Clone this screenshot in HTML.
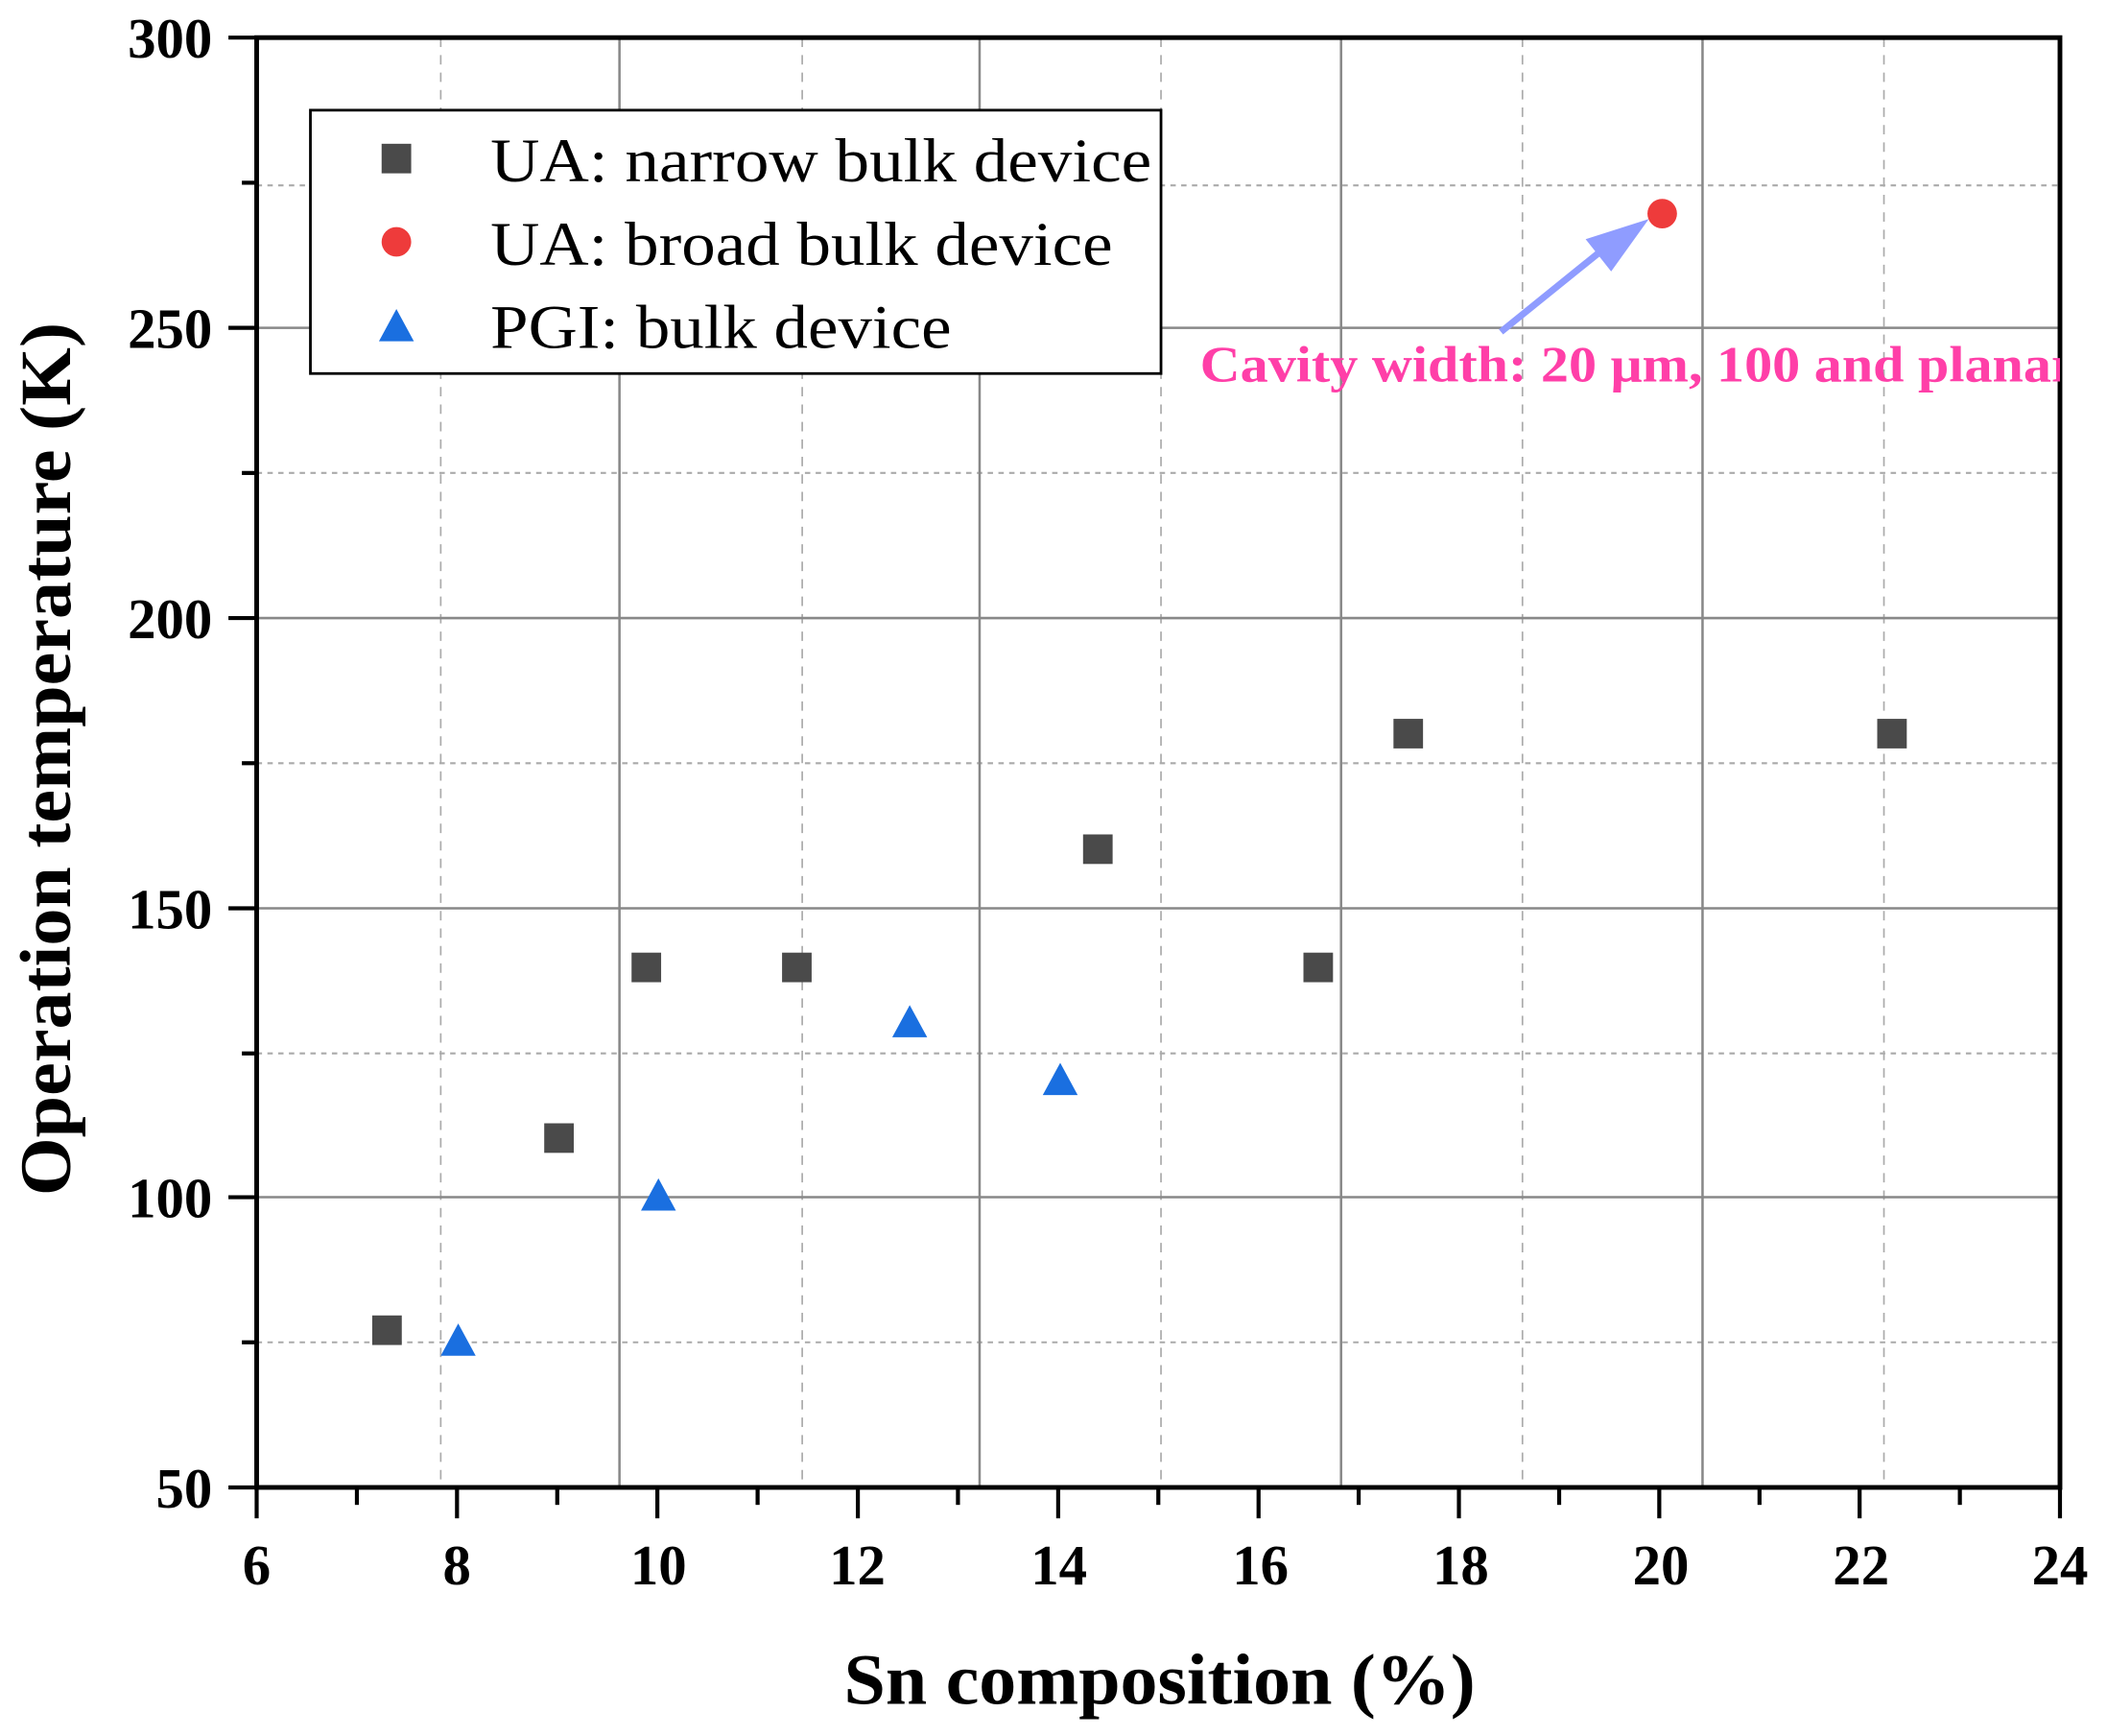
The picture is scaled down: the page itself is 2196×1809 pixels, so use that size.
<!DOCTYPE html>
<html><head><meta charset="utf-8"><style>
html,body{margin:0;padding:0;background:#fff;}
svg{display:block;}
text{font-family:"Liberation Serif",serif;}
</style></head><body>
<svg width="2196" height="1809" viewBox="0 0 1568 1292" preserveAspectRatio="none" xmlns="http://www.w3.org/2000/svg">
<defs><clipPath id="pc"><rect x="191" y="28" width="1342" height="1079"/></clipPath></defs>
<rect width="1568" height="1292" fill="#fff"/>
<g stroke="#aaa" stroke-width="1.5" stroke-dasharray="4,4">
<line x1="191" y1="138" x2="1533" y2="138"/><line x1="191" y1="352" x2="1533" y2="352"/>
<line x1="191" y1="568" x2="1533" y2="568"/><line x1="191" y1="784" x2="1533" y2="784"/>
<line x1="191" y1="999" x2="1533" y2="999"/>
</g>
<g stroke="#aaa" stroke-width="1.2" stroke-dasharray="7,6">
<line x1="328" y1="28" x2="328" y2="1107"/><line x1="597" y1="28" x2="597" y2="1107"/>
<line x1="864" y1="28" x2="864" y2="1107"/><line x1="1133" y1="28" x2="1133" y2="1107"/>
<line x1="1402" y1="28" x2="1402" y2="1107"/>
</g>
<g stroke="#888" stroke-width="1.8">
<line x1="461" y1="28" x2="461" y2="1107"/><line x1="729" y1="28" x2="729" y2="1107"/>
<line x1="998" y1="28" x2="998" y2="1107"/><line x1="1267" y1="28" x2="1267" y2="1107"/>
<line x1="191" y1="244" x2="1533" y2="244"/><line x1="191" y1="460" x2="1533" y2="460"/>
<line x1="191" y1="676" x2="1533" y2="676"/><line x1="191" y1="891" x2="1533" y2="891"/>
</g>
<rect x="191" y="28" width="1342" height="1079" fill="none" stroke="#000" stroke-width="3.5"/>
<g stroke="#000" stroke-width="3">
<line x1="170" y1="28" x2="191" y2="28"/><line x1="170" y1="244" x2="191" y2="244"/>
<line x1="170" y1="460" x2="191" y2="460"/><line x1="170" y1="676" x2="191" y2="676"/>
<line x1="170" y1="891" x2="191" y2="891"/><line x1="170" y1="1107" x2="191" y2="1107"/>
<line x1="180" y1="136" x2="191" y2="136"/><line x1="180" y1="352" x2="191" y2="352"/>
<line x1="180" y1="568" x2="191" y2="568"/><line x1="180" y1="784" x2="191" y2="784"/>
<line x1="180" y1="999" x2="191" y2="999"/>
<line x1="191.0" y1="1107" x2="191.0" y2="1130"/><line x1="340.1" y1="1107" x2="340.1" y2="1130"/><line x1="489.2" y1="1107" x2="489.2" y2="1130"/><line x1="638.4" y1="1107" x2="638.4" y2="1130"/><line x1="787.5" y1="1107" x2="787.5" y2="1130"/><line x1="936.6" y1="1107" x2="936.6" y2="1130"/><line x1="1085.7" y1="1107" x2="1085.7" y2="1130"/><line x1="1234.8" y1="1107" x2="1234.8" y2="1130"/><line x1="1383.9" y1="1107" x2="1383.9" y2="1130"/><line x1="1533" y1="1107" x2="1533" y2="1130"/>
<line x1="265.6" y1="1107" x2="265.6" y2="1120"/><line x1="414.7" y1="1107" x2="414.7" y2="1120"/><line x1="563.8" y1="1107" x2="563.8" y2="1120"/><line x1="712.9" y1="1107" x2="712.9" y2="1120"/><line x1="862.0" y1="1107" x2="862.0" y2="1120"/><line x1="1011.1" y1="1107" x2="1011.1" y2="1120"/><line x1="1160.3" y1="1107" x2="1160.3" y2="1120"/><line x1="1309.4" y1="1107" x2="1309.4" y2="1120"/><line x1="1458.5" y1="1107" x2="1458.5" y2="1120"/>
</g>
<g font-size="42" font-weight="bold" text-anchor="end">
<text x="158" y="43">300</text><text x="158" y="259">250</text><text x="158" y="475">200</text>
<text x="158" y="691">150</text><text x="158" y="906">100</text><text x="158" y="1122">50</text>
</g>
<g font-size="42" font-weight="bold" text-anchor="middle">
<text x="191" y="1179">6</text><text x="340" y="1179">8</text><text x="490" y="1179">10</text>
<text x="638" y="1179">12</text><text x="788" y="1179">14</text><text x="938" y="1179">16</text>
<text x="1087" y="1179">18</text><text x="1236" y="1179">20</text><text x="1385" y="1179">22</text>
<text x="1533" y="1179">24</text>
</g>
<text x="628" y="1268" font-size="54" font-weight="bold" textLength="470" lengthAdjust="spacingAndGlyphs">Sn composition (%)</text>
<text transform="translate(52,565) rotate(-90)" font-size="54" font-weight="bold" text-anchor="middle" textLength="650" lengthAdjust="spacingAndGlyphs">Operation temperature (K)</text>
<rect x="231" y="82" width="633" height="196" fill="#fff" stroke="#000" stroke-width="2"/>
<rect x="284" y="107" width="22" height="22" fill="#4a4a4a"/>
<circle cx="295" cy="180" r="11" fill="#ee3b3b"/>
<polygon points="295,230 308,254 282,254" fill="#1a6fe0"/>
<g font-size="46">
<text x="365" y="135" textLength="492" lengthAdjust="spacingAndGlyphs">UA: narrow bulk device</text>
<text x="365" y="197" textLength="463" lengthAdjust="spacingAndGlyphs">UA: broad bulk device</text>
<text x="365" y="259" textLength="343" lengthAdjust="spacingAndGlyphs">PGI: bulk device</text>
</g>
<g fill="#4a4a4a">
<rect x="277" y="979" width="22" height="22"/><rect x="405" y="836" width="22" height="22"/>
<rect x="470" y="709" width="22" height="22"/><rect x="582" y="709" width="22" height="22"/>
<rect x="806" y="621" width="22" height="22"/><rect x="970" y="709" width="22" height="22"/>
<rect x="1037" y="535" width="22" height="22"/><rect x="1397" y="535" width="22" height="22"/>
</g>
<g fill="#1a6fe0">
<polygon points="341,985 354,1009 328,1009"/><polygon points="490,877 503,901 477,901"/>
<polygon points="677,748 690,772 664,772"/><polygon points="789,791 802,815 776,815"/>
</g>
<circle cx="1237" cy="159" r="11" fill="#ee3b3b"/>
<line x1="1117" y1="247" x2="1190" y2="188" stroke="#8f9cff" stroke-width="5"/>
<polygon points="1227,163 1180,178 1199,202" fill="#8f9cff"/>
<g clip-path="url(#pc)">
<text x="893" y="284" font-size="38" font-weight="bold" fill="#ff3fa8" textLength="652" lengthAdjust="spacingAndGlyphs">Cavity width:  20 μm, 100 and planar</text>
</g>
</svg>
</body></html>
